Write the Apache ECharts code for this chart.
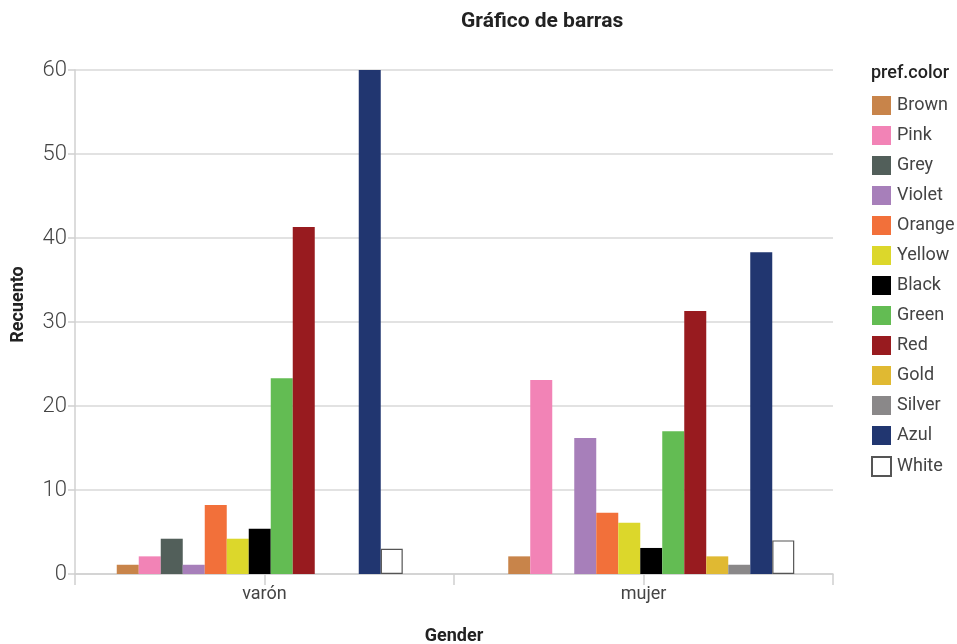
<!DOCTYPE html>
<html><head><meta charset="utf-8">
<script src="https://cdn.jsdelivr.net/npm/echarts@6/dist/echarts.min.js"></script>
<style>html,body{margin:0;padding:0;background:#fff}#c{width:957px;height:644px}</style>
</head><body><div id="c"></div>
<script>
const categories = ['varón', 'mujer'];
const colorNames = ['Brown','Pink','Grey','Violet','Orange','Yellow','Black','Green','Red','Gold','Silver','Azul','White'];
const colors = ['#c8844a','#f283b6','#525f5a','#a77fba','#f2703a','#dcd72b','#000000','#63bc53','#981b1f','#e0b932','#8a8889','#213670','#ffffff'];
const maleValues   = [1.1, 2.1, 4.2, 1.1, 8.2, 4.2, 5.4, 23.3, 41.3, 0, 0, 60, 3];
const femaleValues = [2.1, 23.1, 0, 16.2, 7.3, 6.1, 3.1, 17.0, 31.3, 2.1, 1.1, 38.3, 4];
const yTicks = [0, 10, 20, 30, 40, 50, 60];

const FONT = 'Roboto';
const series = colorNames.map((name, i) => ({
  name: name,
  type: 'bar',
  xAxisIndex: 2,
  yAxisIndex: 1,
  barWidth: 22,
  barGap: '0%',
  data: [maleValues[i], femaleValues[i]],
  itemStyle: name === 'White'
    ? {color: colors[i], borderColor: '#555', borderWidth: 1.2}
    : {color: colors[i]},
  emphasis: {disabled: true}
}));

const chart = echarts.init(document.getElementById('c'), null, {renderer: 'canvas'});
chart.setOption({
  animation: false,
  backgroundColor: '#fff',
  title: {
    text: 'Gráfico de barras', left: 456, top: 6,
    textStyle: {fontFamily: FONT, fontSize: 21, fontWeight: 'bold', color: '#222'}
  },
  legend: {
    orient: 'vertical', left: 866, top: 91,
    itemWidth: 19, itemHeight: 19, itemGap: 11,
    icon: 'rect',
    textStyle: {fontFamily: FONT, fontSize: 18, color: '#444', padding: [0,0,0,1]},
    data: colorNames
  },
  graphic: [{
    type: 'text', left: 871, top: 64,
    style: {text: 'pref.color', font: '500 18px Roboto', fill: '#222'}
  }],
  grid: [
    {left: 75, right: 124, top: 70, bottom: 70, outerBoundsMode: 'none', containLabel: false},
    {left: 64, width: 783, top: 70, bottom: 70, outerBoundsMode: 'none', containLabel: false}
  ],
  xAxis: [
    {
      type: 'category', gridIndex: 0, data: categories, position: 'bottom',
      name: 'Gender', nameLocation: 'middle', nameGap: 53,
      nameTextStyle: {fontFamily: FONT, fontSize: 18, fontWeight: 'bold', color: '#222'},
      axisLine: {show: true, lineStyle: {color: '#d0d0d0', width: 1.5}},
      axisTick: {show: false},
      axisLabel: {fontFamily: FONT, fontSize: 18, color: '#444', margin: 11}
    },
    {
      type: 'category', gridIndex: 0, data: ['', '', '', ''], position: 'bottom', offset: 0,
      axisLine: {show: false},
      axisTick: {show: true, length: 11, lineStyle: {color: '#d0d0d0', width: 1.5}},
      axisLabel: {show: false}
    },
    {
      type: 'category', gridIndex: 1, data: categories, show: false
    }
  ],
  yAxis: [
    {
      type: 'value', gridIndex: 0, min: 0, max: 60, interval: 10,
      name: 'Recuento', nameLocation: 'middle', nameGap: 48,
      nameTextStyle: {fontFamily: FONT, fontSize: 18, fontWeight: 'bold', color: '#222', padding: [0, 0, 0, 35]},
      axisLine: {show: true, lineStyle: {color: '#d0d0d0', width: 1.5}},
      axisTick: {show: true, length: 7, lineStyle: {color: '#d0d0d0', width: 1.5}},
      splitLine: {show: true, lineStyle: {color: '#d9d9d9', width: 1.5}},
      axisLabel: {fontFamily: FONT, fontSize: 22, fontWeight: 300, color: '#444', margin: 8,
        formatter: v => yTicks.includes(v) ? String(v) : ''}
    },
    {
      type: 'value', gridIndex: 1, min: 0, max: 60, interval: 10, show: false
    }
  ],
  series: series
});
</script>
</body></html>
